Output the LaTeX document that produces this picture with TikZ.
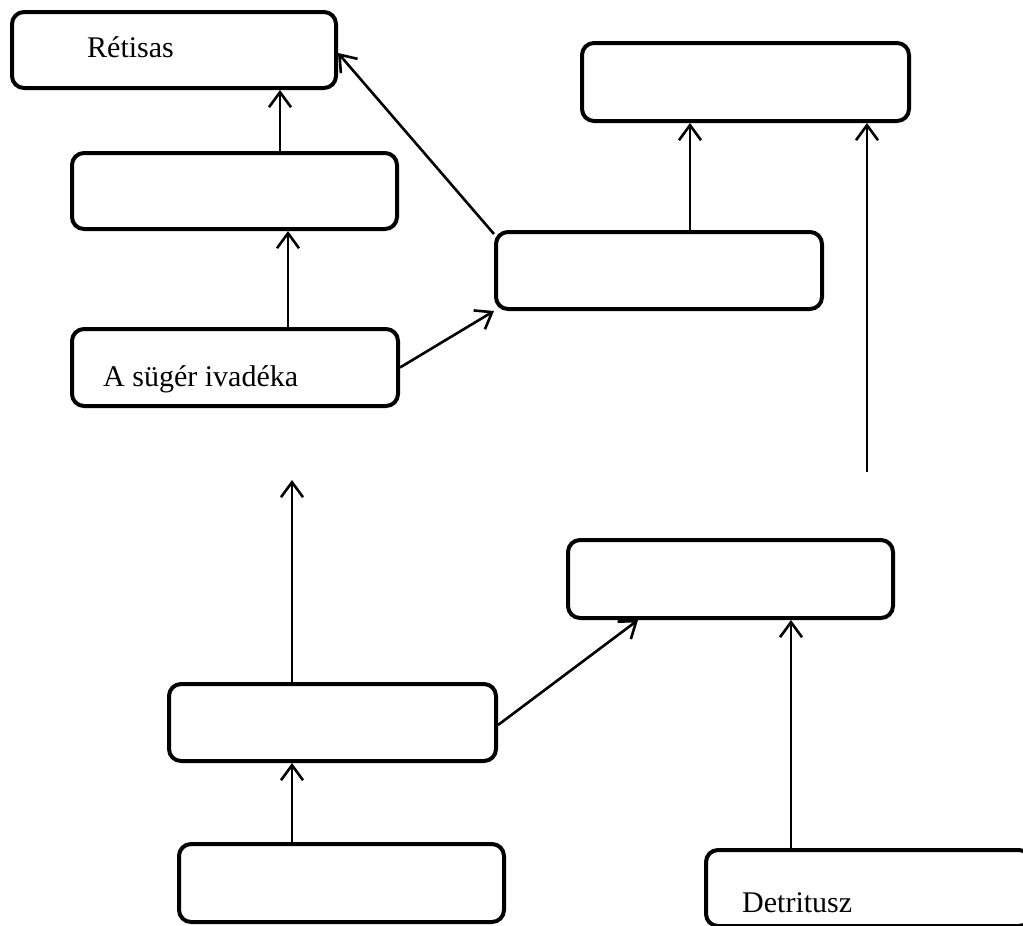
\documentclass[tikz,border=0pt]{standalone}
\usepackage{fontspec}
\setmainfont{Liberation Serif}
\usetikzlibrary{arrows.meta}
\begin{document}
\begin{tikzpicture}[x=1pt,y=-1pt,
  box/.style={draw=black, line width=4pt, rounded corners=12pt, rectangle, inner sep=0pt, fill=white},
  arr/.style={draw=black, line width=2.6pt, -{Straight Barb[length=15pt,width=22pt,line width=2.6pt]}},
  lbl/.style={anchor=base west, inner sep=0pt, font=\fontsize{30}{36}\selectfont}]
\useasboundingbox (0,0) rectangle (1023,926);
\fill[white] (0,0) rectangle (1023,926);
% boxes
\node[box, minimum width=324pt, minimum height=76pt] (rt) at (174,50) {};
\node[box, minimum width=325pt, minimum height=76pt] (b2) at (234.5,191) {};
\node[box, minimum width=326pt, minimum height=77pt] (b3) at (235,367.5) {};
\node[box, minimum width=326pt, minimum height=77pt] (c) at (659,270.5) {};
\node[box, minimum width=327pt, minimum height=78pt] (tr) at (745.5,82) {};
\node[box, minimum width=325pt, minimum height=78pt] (b6) at (730.5,579) {};
\node[box, minimum width=327pt, minimum height=77pt] (b7) at (332.5,722.5) {};
\node[box, minimum width=325pt, minimum height=78pt] (b8) at (341.5,883) {};
\node[box, minimum width=325pt, minimum height=76pt] (det) at (868.5,888) {};
% labels
\node[lbl] (t1) at (87,57) {Rétisas};
\node[lbl] (t2) at (103,386) {A sügér ivadéka};
\node[lbl] (t3) at (742,912) {Detritusz};
% free ends
\coordinate (f1) at (867,472);
\coordinate (f2) at (292,480);
% arrows
\draw[arr] ([xshift=45.5pt]b2.north) -- ([xshift=106pt]rt.south);
\draw[arr] ([xshift=53pt]b3.north) -- ([xshift=53.5pt]b2.south);
\draw[arr] (b3.east) -- (c.south west);
\draw[arr] ([yshift=-4pt]c.north west) -- ([yshift=-3pt]rt.east);
\draw[arr] ([xshift=31pt]c.north) -- ([xshift=-55.5pt]tr.south);
\draw[arr] (f1) -- ([xshift=121.5pt]tr.south);
\draw[arr] ([xshift=-40.5pt]b7.north) -- (f2);
\draw[arr] ([yshift=-2.5pt]b7.east) -- ([xshift=72pt]b6.south west);
\draw[arr] ([xshift=-49.5pt]b8.north) -- ([xshift=-40.5pt]b7.south);
\draw[arr] ([xshift=-77.5pt]det.north) -- ([xshift=60.5pt]b6.south);
\end{tikzpicture}
\end{document}
